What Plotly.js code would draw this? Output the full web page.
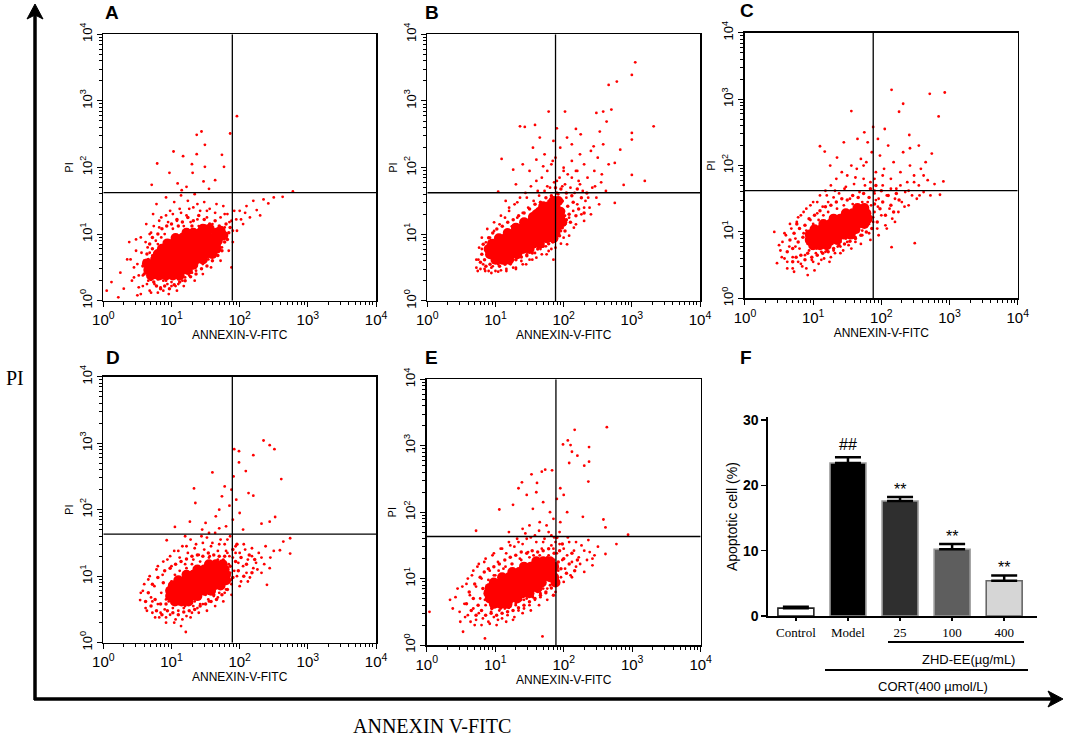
<!DOCTYPE html>
<html><head><meta charset="utf-8">
<script src="https://cdn.plot.ly/plotly-3.0.1.min.js"></script>
<style>html,body{margin:0;padding:0;background:#fff}#chart{width:1065px;height:737px}</style>
</head><body><div id="chart"></div>
<script>
// ---------- DATA (log10 decades: [x, y]) ----------
const coreA = [[0.82,0.38],[0.92,0.38],[1.02,0.38],
[0.74,0.46],[0.84,0.46],[0.94,0.46],[1.04,0.46],[1.14,0.46],
[0.72,0.54],[0.82,0.54],[0.92,0.54],[1.02,0.54],[1.12,0.54],[1.22,0.54],
[0.76,0.62],[0.86,0.62],[0.96,0.62],[1.06,0.62],[1.16,0.62],[1.26,0.62],[1.36,0.62],
[0.80,0.70],[0.90,0.70],[1.00,0.70],[1.10,0.70],[1.20,0.70],[1.30,0.70],[1.40,0.70],[1.50,0.70],
[0.86,0.78],[0.96,0.78],[1.06,0.78],[1.16,0.78],[1.26,0.78],[1.36,0.78],[1.46,0.78],[1.56,0.78],
[0.94,0.86],[1.04,0.86],[1.14,0.86],[1.24,0.86],[1.34,0.86],[1.44,0.86],[1.54,0.86],
[1.06,0.94],[1.16,0.94],[1.26,0.94],[1.36,0.94],[1.46,0.94],[1.56,0.94],
[1.22,1.02],[1.32,1.02],[1.42,1.02],
[1.62,0.94],[1.66,1.02],[1.52,1.02],[1.72,1.05],[1.60,0.86],[1.68,0.90],
[0.66,0.46],[0.64,0.56],[1.24,0.46],[1.32,0.54],[1.46,0.62],[1.60,0.70],[1.66,0.78],[1.76,0.98],[1.46,1.08],[1.56,1.08],[0.70,0.38],[1.12,0.38]];
const ringA = [[0.60,0.40],[0.62,0.58],[0.64,0.70],[0.66,0.48],[0.68,0.85],[0.70,0.32],[0.72,0.95],[0.74,0.28],[0.78,0.22],[0.80,1.00],[0.84,0.18],[0.86,1.08],[0.90,0.22],[0.93,1.12],[0.97,0.18],[1.00,1.15],[1.04,0.24],[1.08,1.22],[1.12,0.28],[1.16,1.18],[1.20,0.30],[1.24,1.25],[1.28,0.36],[1.32,1.20],[1.36,0.40],[1.40,1.28],[1.44,0.48],[1.48,1.22],[1.52,0.52],[1.56,1.15],[1.60,0.60],[1.64,1.20],[1.68,0.68],[1.70,1.12],[1.74,0.75],[1.76,1.05],[1.78,0.88],[1.80,1.15],[1.82,0.92],[1.84,1.02],[1.70,0.82],[1.58,0.66],[0.66,0.62],[0.76,0.35],[1.10,1.12],[1.30,1.12],[1.50,1.12],[1.86,1.10],[0.58,0.52],[0.72,0.78]];
const ring2A = [[0.45,0.35],[0.50,0.55],[0.52,0.20],[0.56,0.72],[0.58,0.38],[0.62,0.88],[0.64,0.25],[0.68,1.00],[0.70,0.12],[0.74,1.12],[0.80,0.12],[0.82,1.20],[0.88,0.15],[0.92,1.28],[0.96,0.10],[1.02,1.30],[1.08,0.15],[1.14,1.32],[1.18,0.22],[1.26,1.38],[1.34,0.30],[1.38,1.45],[1.46,0.40],[1.52,1.35],[1.58,0.50],[1.66,1.45],[1.72,0.60],[1.78,1.30],[1.84,0.75],[1.88,1.20],[1.90,0.88],[1.92,1.35],[1.96,1.05],[2.02,1.22],[2.08,1.32],[0.55,0.10],[0.40,0.62],[0.48,0.92]];
const haloA = [[0.05,0.15],[0.12,0.28],[0.22,0.05],[0.25,0.42],[0.30,0.18],[0.35,0.62],[0.38,0.88],[0.42,0.30],[0.45,0.50],[0.48,0.75],[0.50,0.08],[0.52,0.38],[0.55,0.95],[0.58,0.22],[0.60,0.60],[0.62,0.45],[0.63,1.15],[0.65,0.80],[0.66,0.30],[0.68,0.15],[0.70,1.02],[0.72,0.68],[0.73,1.30],[0.75,0.25],[0.77,0.90],[0.78,1.45],[0.80,0.32],[0.82,1.10],[0.84,0.20],[0.85,1.25],[0.88,0.30],[0.90,1.00],[0.92,1.55],[0.94,0.25],[0.95,1.18],[0.98,1.35],[1.00,0.28],[1.02,1.08],[1.04,1.48],[1.06,0.22],[1.08,1.20],[1.10,0.32],[1.12,1.38],[1.14,1.58],[1.16,0.30],[1.18,1.12],[1.20,0.42],[1.22,1.28],[1.24,1.50],[1.26,0.38],[1.28,1.18],[1.30,0.50],[1.32,1.40],[1.34,1.60],[1.36,0.45],[1.38,1.22],[1.40,0.58],[1.42,1.35],[1.44,1.10],[1.46,0.55],[1.48,1.48],[1.50,0.70],[1.52,1.25],[1.54,0.62],[1.56,1.38],[1.58,0.78],[1.60,1.15],[1.62,0.72],[1.64,1.32],[1.66,0.85],[1.68,1.05],[1.70,0.95],[1.72,1.25],[1.74,0.80],[1.76,1.42],[1.78,1.10],[1.80,0.98],[1.82,1.30],[1.85,1.18],[1.88,0.50],[1.90,1.05],
[1.95,1.22],[2.00,1.35],[2.05,1.15],[2.10,1.42],[2.15,1.25],[2.20,1.50],[2.25,1.36],[2.30,1.28],[2.35,1.52],[2.42,1.46],[2.50,1.55],[2.63,1.56],[2.78,1.64],
[0.71,1.74],[0.79,2.06],[0.97,1.92],[1.03,2.24],[1.09,1.76],[1.17,2.17],[1.22,1.71],[1.30,2.05],[1.31,1.92],[1.37,2.20],[1.37,2.49],[1.44,2.54],[1.47,1.79],[1.49,2.34],[1.49,2.01],[1.64,1.81],[1.74,2.19],[1.77,2.01],[1.86,2.51],[1.96,2.77],[1.15,1.66],[1.55,1.68],
[0.70,0.55],[0.68,0.72],[0.74,0.40],[0.80,0.85],[0.85,0.95],[0.92,0.30],[1.00,0.22],[1.10,0.25],[1.20,0.35],[1.30,0.42],[1.45,0.62],[1.55,0.72],[1.62,0.88],[1.68,0.98],[1.50,1.05],[1.40,1.12],[1.25,1.05],[1.15,1.00],[1.05,0.95],[0.98,0.90]];

const coreB = [[1.00,0.62],[1.10,0.62],[1.20,0.62],
[0.92,0.70],[1.02,0.70],[1.12,0.70],[1.22,0.70],[1.32,0.70],
[0.90,0.78],[1.00,0.78],[1.10,0.78],[1.20,0.78],[1.30,0.78],[1.40,0.78],[1.50,0.78],
[0.95,0.86],[1.05,0.86],[1.15,0.86],[1.25,0.86],[1.35,0.86],[1.45,0.86],[1.55,0.86],[1.65,0.86],
[1.05,0.94],[1.15,0.94],[1.25,0.94],[1.35,0.94],[1.45,0.94],[1.55,0.94],[1.65,0.94],[1.75,0.94],[1.85,0.94],
[1.18,1.02],[1.28,1.02],[1.38,1.02],[1.48,1.02],[1.58,1.02],[1.68,1.02],[1.78,1.02],[1.88,1.02],
[1.30,1.10],[1.40,1.10],[1.50,1.10],[1.60,1.10],[1.70,1.10],[1.80,1.10],[1.90,1.10],
[1.42,1.18],[1.52,1.18],[1.62,1.18],[1.72,1.18],[1.82,1.18],[1.92,1.18],
[1.55,1.26],[1.65,1.26],[1.75,1.26],[1.85,1.26],
[1.65,1.34],[1.75,1.34],[1.85,1.34],
[1.78,1.42],[1.88,1.42],
[1.95,1.26],[1.95,1.34],[1.92,1.50],[1.85,1.50],[1.98,1.18],[1.60,1.30],[1.70,1.42]];
const ringB = [[0.78,0.58],[0.80,0.70],[0.82,0.85],[0.84,0.62],[0.86,0.52],[0.88,0.80],[0.90,0.95],[0.92,0.55],[0.96,1.02],[0.98,0.58],[1.02,1.08],[1.06,0.52],[1.10,1.12],[1.14,0.55],[1.18,1.18],[1.22,0.60],[1.26,1.22],[1.30,0.62],[1.34,1.28],[1.38,0.66],[1.42,1.32],[1.46,0.68],[1.50,1.38],[1.54,0.72],[1.58,1.45],[1.62,0.78],[1.66,1.48],[1.70,0.82],[1.74,1.55],[1.78,0.86],[1.82,1.58],[1.86,0.90],[1.90,1.62],[1.94,0.98],[1.98,1.50],[2.02,1.05],[2.06,1.42],[2.10,1.18],[2.14,1.48],[2.18,1.28],[2.22,1.38],[2.26,1.55],[2.30,1.32],[2.34,1.62],[2.04,1.62],[1.96,1.68],[1.88,1.70],[2.12,1.58],[2.20,1.68],[1.92,1.52],[2.00,1.35],[2.08,1.30],[1.98,1.10],[2.04,1.22]];
const ring2B = [[0.72,0.62],[0.74,0.45],[0.76,0.80],[0.80,0.95],[0.84,0.48],[0.88,1.08],[0.94,0.42],[0.98,1.18],[1.04,0.44],[1.08,1.28],[1.16,0.45],[1.20,1.40],[1.26,0.50],[1.32,1.48],[1.40,0.55],[1.46,1.55],[1.54,0.62],[1.62,1.65],[1.68,0.70],[1.76,1.72],[1.82,0.78],[1.90,1.80],[1.96,0.86],[2.02,1.75],[2.08,0.98],[2.12,1.85],[2.18,1.15],[2.24,1.75],[2.30,1.40],[2.36,1.55],[2.40,1.30],[2.46,1.72],[2.52,1.45],[2.56,1.90],[1.84,2.10],[1.70,2.02],[2.00,1.95],[2.20,1.95]];
const haloB = [[0.72,0.50],[0.75,0.62],[0.78,0.48],[0.80,0.78],[0.82,0.55],[0.85,0.45],[0.86,0.88],[0.88,0.68],[0.90,0.45],[0.92,0.95],[0.94,0.50],[0.96,0.52],[0.98,1.05],[1.00,0.45],[1.02,0.92],[1.04,0.55],[1.06,1.15],[1.08,0.46],[1.10,0.98],[1.12,0.58],[1.14,1.25],[1.16,0.48],[1.18,0.70],[1.20,1.35],[1.22,0.55],[1.24,1.12],[1.26,0.62],[1.28,1.45],[1.30,0.48],[1.32,1.25],[1.34,0.68],[1.36,1.55],[1.38,0.60],[1.40,1.32],[1.42,0.75],[1.44,1.62],[1.46,0.70],[1.48,1.40],[1.50,0.62],[1.52,1.72],[1.54,0.80],[1.56,1.50],[1.58,0.72],[1.60,1.80],[1.62,0.85],[1.64,1.58],[1.66,0.78],[1.68,1.85],[1.70,0.90],[1.72,1.65],[1.74,0.82],[1.76,1.95],[1.78,0.75],[1.80,1.70],[1.82,2.05],[1.84,0.88],[1.86,1.78],[1.88,2.15],[1.90,0.95],[1.92,1.60],[1.94,1.85],[1.96,1.05],[1.98,1.72],[2.00,2.00],[2.02,1.15],[2.04,1.55],[2.06,1.90],[2.08,1.25],[2.10,1.70],[2.12,2.10],[2.14,1.35],[2.16,1.62],[2.18,1.95],[2.20,1.45],[2.22,1.80],[2.24,2.20],[2.26,1.30],[2.28,1.65],[2.30,2.05],[2.32,1.50],[2.35,1.85],[2.38,1.40],[2.40,2.25],[2.42,1.70],[2.45,1.95],[2.48,1.55],[2.50,2.15],[2.55,1.78],[2.58,2.35],[2.62,1.65],[2.66,2.05],
[3.05,3.58],[3.00,3.39],[2.78,3.29],[2.66,3.24],[2.70,2.87],[2.58,2.84],[2.48,2.82],[2.63,2.69],[2.53,2.54],[3.32,2.62],[3.00,2.52],[3.00,2.42],[2.83,2.27],[2.75,2.07],[3.00,1.89],[3.19,1.80],[2.88,1.74],[2.75,1.47],[2.02,2.84],[1.78,2.84],[1.90,2.59],[2.18,2.58],[1.58,2.64],[1.36,2.62],[1.43,2.61],[1.09,2.13],[1.26,1.97],[1.04,1.64],[2.44,2.32],[1.55,2.30],[1.65,2.45],[1.72,2.20],[1.85,2.40],[1.95,2.30],[2.05,2.45],[1.40,2.05],[1.50,1.95],[1.60,2.12],[1.30,1.75],[1.15,1.50],[2.12,2.35],[2.25,2.50],
[1.02,0.68],[1.10,0.85],[1.18,0.92],[1.25,0.80],[1.32,0.95],[1.40,1.00],[1.48,1.15],[1.55,1.22],[1.62,1.30],[1.70,1.38],[1.78,1.50],[1.85,1.55],[1.92,1.45],[1.95,1.30],[1.98,1.20],[1.96,1.38],[2.02,1.28],[1.70,1.05],[1.60,0.95],[1.50,0.88],
[1.30,0.50],[1.45,0.55],[1.60,0.65],[1.75,0.70],[1.88,0.80],[2.00,0.95],[2.15,1.10],[2.30,1.20],[1.85,0.62],[2.05,0.85]];

const coreC = [[1.00,0.80],[1.10,0.80],[1.20,0.80],
[0.95,0.88],[1.05,0.88],[1.15,0.88],[1.25,0.88],[1.35,0.88],
[0.95,0.96],[1.05,0.96],[1.15,0.96],[1.25,0.96],[1.35,0.96],[1.45,0.96],[1.55,0.96],
[1.02,1.04],[1.12,1.04],[1.22,1.04],[1.32,1.04],[1.42,1.04],[1.52,1.04],[1.62,1.04],
[1.15,1.12],[1.25,1.12],[1.35,1.12],[1.45,1.12],[1.55,1.12],[1.65,1.12],[1.75,1.12],
[1.30,1.20],[1.40,1.20],[1.50,1.20],[1.60,1.20],[1.70,1.20],[1.80,1.20],
[1.48,1.28],[1.58,1.28],[1.68,1.28],[1.78,1.28],
[1.65,1.36],[1.75,1.36]];
const ringC = [[0.62,0.70],[0.66,0.88],[0.70,0.75],[0.72,0.98],[0.75,0.62],[0.78,0.85],[0.80,1.05],[0.82,0.65],[0.85,0.92],[0.88,0.58],[0.88,1.10],[0.92,0.68],[0.94,1.20],[0.98,0.62],[1.02,1.25],[1.06,0.65],[1.10,1.32],[1.14,0.68],[1.18,1.38],[1.22,0.70],[1.26,1.40],[1.30,0.75],[1.34,1.45],[1.38,0.80],[1.42,1.50],[1.46,0.82],[1.50,1.48],[1.54,0.86],[1.58,1.55],[1.62,0.90],[1.66,1.52],[1.70,0.95],[1.74,1.58],[1.78,1.00],[1.82,1.52],[1.86,1.05],[1.90,1.42],[1.94,1.15],[1.98,1.35],[2.02,1.45],[2.06,1.25],[2.10,1.55],[2.14,1.40],[2.18,1.30],[2.22,1.58],[2.26,1.48],[2.00,1.62],[1.92,1.70],[1.84,1.65],[0.76,1.12],[0.70,0.55]];
const ring2C = [[0.50,0.80],[0.54,0.62],[0.58,0.98],[0.62,0.55],[0.66,1.12],[0.70,0.45],[0.74,0.78],[0.78,1.22],[0.82,0.52],[0.86,1.30],[0.90,0.45],[0.96,1.40],[1.00,0.55],[1.06,1.45],[1.12,0.58],[1.20,1.55],[1.26,0.62],[1.32,1.62],[1.40,0.68],[1.48,1.68],[1.56,0.75],[1.62,1.82],[1.70,0.82],[1.76,1.70],[1.84,0.88],[1.90,1.80],[1.96,0.95],[2.02,1.85],[2.08,1.05],[2.14,1.65],[2.20,1.15],[2.28,1.70],[2.34,1.38],[2.40,1.62],[2.48,1.75],[2.56,1.55],[2.62,1.85],[1.74,2.00]];
const haloC = [[0.43,1.00],[0.47,0.53],[0.52,0.72],[0.55,0.85],[0.58,0.60],[0.60,0.95],[0.62,0.45],[0.65,0.78],[0.68,1.05],[0.70,0.62],[0.72,0.40],[0.74,0.90],[0.76,1.15],[0.78,0.55],[0.80,0.75],[0.82,1.25],[0.84,0.48],[0.86,0.98],[0.88,0.65],[0.90,1.35],[0.92,0.35],[0.94,0.72],[0.96,1.18],[0.98,0.58],[1.00,1.45],[1.02,0.42],[1.04,0.68],[1.06,1.28],[1.08,0.52],[1.10,1.55],[1.12,0.70],[1.14,1.38],[1.16,0.60],[1.18,1.62],[1.20,0.72],[1.22,1.45],[1.24,0.55],[1.26,1.70],[1.28,0.82],[1.30,1.52],[1.32,0.68],[1.34,1.80],[1.36,0.78],[1.38,1.58],[1.40,0.85],[1.42,1.90],[1.44,0.72],[1.46,1.65],[1.48,0.90],[1.50,1.85],[1.52,0.80],[1.54,1.50],[1.56,2.00],[1.58,0.92],[1.60,1.72],[1.62,0.85],[1.64,1.95],[1.66,1.00],[1.68,1.60],[1.70,2.10],[1.72,0.95],[1.74,1.80],[1.76,1.10],[1.78,2.05],[1.80,1.45],[1.82,0.98],[1.84,1.75],[1.86,2.20],[1.88,1.15],[1.90,1.62],[1.92,1.90],[1.94,1.05],[1.96,1.50],[1.98,2.15],[2.00,1.25],[2.02,1.70],[2.04,1.95],[2.06,1.10],[2.08,1.55],[2.10,2.30],[2.12,1.35],[2.14,1.80],[2.16,1.20],[2.18,2.05],[2.20,1.50],[2.22,1.65],[2.25,1.30],[2.28,1.90],[2.30,1.45],[2.32,2.20],[2.35,1.60],[2.38,1.75],[2.40,1.40],[2.42,2.00],[2.45,1.55],[2.48,1.85],[2.52,1.50],[2.55,1.70],[2.58,1.95],[2.62,1.60],[2.68,1.78],[2.72,1.55],[2.78,1.72],
[2.15,3.14],[2.71,3.08],[2.93,3.10],[2.84,2.74],[2.32,2.93],[2.26,2.81],[1.56,2.82],[1.88,2.58],[2.41,2.46],[1.10,2.29],[1.17,2.21],[2.74,2.18],[2.42,2.26],[2.91,1.76],[2.86,1.56],[2.49,0.83],[2.15,0.77],[1.45,2.35],[1.65,2.40],[1.75,2.50],[1.95,2.40],[2.05,2.55],[1.80,2.35],[1.35,2.12],[1.25,2.00],[2.55,2.30],[2.65,2.05],
[0.92,0.82],[0.90,1.02],[1.00,1.12],[1.08,1.18],[1.15,1.25],[1.22,1.30],[1.35,1.35],[1.45,1.40],[1.58,1.42],[1.72,1.45],[1.85,1.40],[1.90,1.30],[1.88,1.22],[1.82,1.12],[1.72,1.02],[1.62,0.92],[1.50,0.85],[1.40,0.78],[1.30,0.72],[1.18,0.70],[1.05,0.75],[0.98,0.75],[1.92,1.48],[1.95,1.38],[1.90,1.58]];

const coreD = [[1.05,0.62],[1.15,0.62],[1.25,0.62],
[0.98,0.70],[1.08,0.70],[1.18,0.70],[1.28,0.70],[1.38,0.70],
[0.98,0.78],[1.08,0.78],[1.18,0.78],[1.28,0.78],[1.38,0.78],[1.48,0.78],[1.58,0.78],
[1.02,0.86],[1.12,0.86],[1.22,0.86],[1.32,0.86],[1.42,0.86],[1.52,0.86],[1.62,0.86],[1.72,0.86],
[1.10,0.94],[1.20,0.94],[1.30,0.94],[1.40,0.94],[1.50,0.94],[1.60,0.94],[1.70,0.94],[1.80,0.94],
[1.22,1.02],[1.32,1.02],[1.42,1.02],[1.52,1.02],[1.62,1.02],[1.72,1.02],[1.80,1.02],
[1.38,1.10],[1.48,1.10],[1.58,1.10],[1.68,1.10],[1.78,1.10],
[1.55,1.18],[1.65,1.18],[1.75,1.18]];
const ringD = [[0.62,0.62],[0.66,0.75],[0.70,0.55],[0.72,0.88],[0.76,0.65],[0.78,0.48],[0.80,0.98],[0.84,0.58],[0.86,0.42],[0.88,0.90],[0.90,1.08],[0.94,0.48],[0.96,0.72],[0.98,1.12],[1.02,0.45],[1.06,1.18],[1.10,0.42],[1.14,1.22],[1.18,0.46],[1.22,1.26],[1.26,0.48],[1.30,1.30],[1.34,0.50],[1.38,1.32],[1.42,0.55],[1.46,1.30],[1.50,0.58],[1.54,1.35],[1.58,0.62],[1.62,1.32],[1.66,0.65],[1.70,1.30],[1.74,0.72],[1.78,1.30],[1.82,0.80],[1.86,1.15],[1.90,0.98],[1.94,1.22],[1.98,1.08],[2.02,1.28],[2.06,1.00],[2.10,1.18],[2.14,1.32],[2.18,1.05],[2.22,1.25],[1.90,1.40],[1.96,1.48],[0.92,0.58],[1.62,0.72],[1.84,0.92]];
const ring2D = [[0.55,0.75],[0.60,0.88],[0.64,0.48],[0.68,1.00],[0.72,0.62],[0.76,0.38],[0.80,1.15],[0.84,0.45],[0.88,1.22],[0.92,0.38],[0.98,1.30],[1.04,0.30],[1.10,1.38],[1.16,0.35],[1.22,1.45],[1.28,0.38],[1.34,1.42],[1.40,0.45],[1.46,1.50],[1.52,0.48],[1.58,1.45],[1.64,0.55],[1.70,1.48],[1.76,0.62],[1.82,1.55],[1.88,0.72],[1.94,1.35],[2.00,0.85],[2.06,1.48],[2.12,0.92],[2.18,1.42],[2.26,1.10],[2.32,1.28],[2.38,1.45],[2.44,1.12],[2.50,1.38],[1.70,1.72],[1.55,1.65]];
const haloD = [[0.54,0.64],[0.58,0.78],[0.62,0.52],[0.66,0.95],[0.70,0.68],[0.72,0.45],[0.75,0.85],[0.78,1.10],[0.80,0.58],[0.82,0.38],[0.85,0.75],[0.87,1.02],[0.90,0.50],[0.92,0.30],[0.94,1.25],[0.96,0.62],[0.98,0.42],[1.00,1.15],[1.02,0.52],[1.04,1.38],[1.06,0.35],[1.08,0.95],[1.10,0.48],[1.12,1.28],[1.14,0.25],[1.16,1.45],[1.18,0.52],[1.20,1.18],[1.21,0.16],[1.22,0.40],[1.24,1.35],[1.26,0.58],[1.28,1.55],[1.30,0.45],[1.32,1.25],[1.34,0.62],[1.36,1.48],[1.38,0.52],[1.40,1.32],[1.42,0.70],[1.44,1.60],[1.46,0.58],[1.48,1.40],[1.50,0.72],[1.52,1.58],[1.54,0.65],[1.56,1.30],[1.58,0.78],[1.60,1.50],[1.62,0.70],[1.64,1.65],[1.66,0.82],[1.68,1.38],[1.70,0.75],[1.72,1.55],[1.74,0.88],[1.76,1.25],[1.78,1.48],[1.80,0.80],[1.82,1.35],[1.84,1.18],[1.86,1.60],[1.88,0.95],[1.90,1.28],[1.92,1.08],[1.94,1.45],[1.96,1.00],[1.98,1.20],[2.00,1.35],[2.02,0.92],[2.05,1.15],[2.08,1.40],[2.10,1.05],[2.12,1.25],[2.15,0.98],[2.18,1.30],[2.20,1.12],[2.24,1.20],[2.28,1.35],[2.32,1.05],[2.36,1.18],[2.40,0.87],[2.45,1.28],
[2.35,3.04],[2.44,2.97],[2.51,2.91],[1.92,2.91],[1.99,2.88],[2.20,2.82],[1.99,2.71],[2.09,2.58],[1.60,2.56],[1.91,2.50],[2.61,2.46],[1.33,2.32],[1.78,2.35],[2.13,2.25],[2.20,2.21],[1.74,2.20],[1.35,2.10],[1.85,2.06],[2.52,1.89],[2.32,1.79],[2.44,1.82],[1.05,1.74],[1.27,1.82],[2.74,1.57],[2.64,1.52],[2.59,1.39],[2.74,1.34],[0.93,1.54],[1.50,1.80],[1.65,1.90],[1.80,1.75],[1.90,1.85],[2.00,1.95],[2.05,1.70],[1.70,2.00],[1.45,1.70],[1.95,2.15],[1.88,2.30],[1.20,1.60],
[0.92,0.65],[0.95,0.82],[1.00,0.92],[1.05,1.02],[1.12,1.08],[1.22,1.12],[1.30,1.18],[1.42,1.22],[1.55,1.28],[1.68,1.25],[1.78,1.20],[1.86,1.05],[1.88,0.88],[1.78,0.75],[1.68,0.68],[1.55,0.62],[1.42,0.58],[1.32,0.55],[1.20,0.55],[1.10,0.58],[1.85,1.30],[1.80,1.38]];

const coreE = [[0.98,0.62],[1.08,0.62],[1.18,0.62],
[0.92,0.70],[1.02,0.70],[1.12,0.70],[1.22,0.70],[1.32,0.70],
[0.90,0.78],[1.00,0.78],[1.10,0.78],[1.20,0.78],[1.30,0.78],[1.40,0.78],[1.50,0.78],
[0.92,0.86],[1.02,0.86],[1.12,0.86],[1.22,0.86],[1.32,0.86],[1.42,0.86],[1.52,0.86],[1.62,0.86],
[0.98,0.94],[1.08,0.94],[1.18,0.94],[1.28,0.94],[1.38,0.94],[1.48,0.94],[1.58,0.94],[1.68,0.94],
[1.10,1.02],[1.20,1.02],[1.30,1.02],[1.40,1.02],[1.50,1.02],[1.60,1.02],[1.70,1.02],[1.80,1.02],
[1.25,1.10],[1.35,1.10],[1.45,1.10],[1.55,1.10],[1.65,1.10],[1.75,1.10],[1.82,1.10],
[1.42,1.18],[1.52,1.18],[1.62,1.18],[1.72,1.18],[1.80,1.18],
[1.60,1.26],[1.70,1.26],[1.80,1.26],
[1.86,1.02],[1.86,1.18],[1.88,0.94]];
const ringE = [[0.58,0.62],[0.62,0.80],[0.65,0.52],[0.68,0.70],[0.70,0.92],[0.72,0.45],[0.75,0.60],[0.78,1.02],[0.80,0.52],[0.82,0.85],[0.84,1.10],[0.86,0.45],[0.88,0.70],[0.90,1.15],[0.94,0.48],[0.98,1.18],[1.02,0.45],[1.06,1.22],[1.10,0.48],[1.14,1.28],[1.18,0.50],[1.22,1.32],[1.26,0.52],[1.30,1.35],[1.34,0.56],[1.38,1.40],[1.42,0.60],[1.46,1.38],[1.50,0.65],[1.54,1.42],[1.58,0.70],[1.62,1.40],[1.66,0.75],[1.70,1.42],[1.74,0.80],[1.78,1.45],[1.82,0.86],[1.86,1.38],[1.90,1.00],[1.92,1.25],[1.96,1.15],[2.00,1.30],[2.04,1.08],[2.08,1.22],[2.12,1.38],[2.16,1.12],[2.20,1.28],[1.94,1.42],[1.98,1.52],[1.90,1.62],[0.95,0.55],[1.85,0.75]];
const ring2E = [[0.42,0.72],[0.48,0.50],[0.52,0.88],[0.56,0.42],[0.60,1.00],[0.64,0.35],[0.68,1.12],[0.72,0.38],[0.76,1.22],[0.80,0.30],[0.86,1.30],[0.92,0.32],[0.98,1.38],[1.04,0.38],[1.10,1.45],[1.16,0.35],[1.22,1.50],[1.28,0.42],[1.34,1.55],[1.40,0.48],[1.46,1.60],[1.52,0.52],[1.58,1.65],[1.64,0.60],[1.70,1.55],[1.76,0.68],[1.82,1.65],[1.88,0.80],[1.94,1.70],[2.00,0.95],[2.06,1.62],[2.12,1.02],[2.18,1.55],[2.24,1.22],[2.30,1.42],[2.36,1.58],[2.42,1.30],[2.50,1.48]];
const haloE = [[0.04,0.50],[0.34,0.68],[0.38,0.55],[0.45,0.85],[0.49,0.35],[0.53,0.20],[0.55,0.62],[0.58,0.92],[0.60,0.45],[0.63,0.75],[0.66,1.05],[0.68,0.55],[0.70,0.30],[0.72,0.88],[0.74,1.18],[0.76,0.48],[0.78,0.70],[0.80,1.00],[0.82,0.40],[0.84,1.25],[0.85,0.10],[0.86,0.60],[0.88,0.88],[0.90,0.35],[0.92,1.12],[0.94,0.50],[0.96,1.35],[0.98,0.42],[1.00,1.05],[1.02,0.30],[1.04,1.25],[1.06,0.52],[1.08,1.45],[1.10,0.40],[1.12,1.15],[1.14,0.55],[1.16,1.38],[1.18,0.45],[1.20,1.55],[1.22,0.58],[1.24,1.22],[1.26,0.38],[1.28,1.48],[1.30,0.62],[1.32,1.60],[1.34,0.52],[1.36,1.30],[1.38,0.68],[1.40,1.52],[1.42,0.55],[1.44,1.68],[1.46,0.70],[1.48,1.40],[1.50,0.60],[1.52,1.62],[1.54,0.75],[1.56,1.35],[1.58,0.68],[1.60,1.55],[1.62,0.80],[1.64,1.72],[1.66,0.72],[1.68,1.45],[1.69,0.13],[1.70,0.85],[1.72,1.60],[1.74,0.78],[1.76,1.32],[1.78,1.70],[1.80,0.90],[1.82,1.50],[1.84,1.20],[1.86,1.62],[1.88,0.98],[1.90,1.38],[1.92,1.12],[1.94,1.52],[1.96,1.02],[1.98,1.28],[2.00,1.45],[2.02,1.15],[2.05,1.35],[2.08,1.55],[2.10,1.05],[2.12,1.25],[2.15,1.42],[2.18,1.18],[2.22,1.32],[2.26,1.50],[2.30,1.10],[2.34,1.28],[2.38,1.40],[2.42,1.20],[2.45,1.35],
[2.63,3.28],[2.16,3.24],[2.06,3.08],[2.10,3.01],[1.99,3.02],[2.37,2.98],[2.12,2.91],[2.20,2.85],[2.08,2.74],[2.30,2.70],[2.37,2.76],[1.73,2.64],[1.68,2.61],[1.83,2.63],[1.53,2.57],[1.39,2.45],[1.61,2.44],[2.36,2.46],[1.34,2.36],[1.95,2.36],[2.00,2.26],[1.46,2.26],[1.26,2.11],[1.06,2.04],[2.28,1.93],[2.58,1.89],[2.61,1.77],[0.72,1.72],[2.94,1.66],[2.77,1.52],[2.61,1.37],[1.55,2.05],[1.70,2.15],[1.80,2.00],[1.90,2.20],[1.65,1.85],[1.75,1.80],[1.85,1.90],[1.50,1.80],[1.40,1.75],[1.95,1.85],[1.20,1.70],[2.05,2.00],[1.60,2.30],
[0.85,0.68],[0.86,0.82],[0.90,0.98],[0.98,1.05],[1.05,1.12],[1.15,1.18],[1.25,1.22],[1.38,1.28],[1.50,1.32],[1.65,1.35],[1.78,1.35],[1.86,1.28],[1.88,1.10],[1.86,0.92],[1.76,0.85],[1.66,0.78],[1.55,0.72],[1.42,0.68],[1.30,0.60],[1.20,0.56],[1.08,0.55],[0.95,0.58],[1.85,1.45],[1.88,1.55]];

// quadrant gates (linear units) per panel A..E
const gateX = [78, 76, 76, 78, 77];
const gateY = [42, 42, 42, 43, 43];

// tick labels
const decadeVals = [1, 10, 100, 1000, 10000];
const decadeText = ['10<sup>0</sup>','10<sup>1</sup>','10<sup>2</sup>','10<sup>3</sup>','10<sup>4</sup>'];

// panel F bar data
const fCats = ['Control','Model','25','100','400'];
const fVals = [1.2, 23.4, 17.6, 10.2, 5.4];
const fErr  = [0.2, 0.9, 0.6, 0.8, 0.8];
const fSig  = ['', '##', '**', '**', '**'];
const fTicks = [0, 10, 20, 30];

// ---------- BUILD ----------
const panels = [
  {core: coreA, ring: ringA, ring2: ring2A, halo: haloA, dx:[0.0970,0.3531], dy:[0.5920,0.9535]},
  {core: coreB, ring: ringB, ring2: ring2B, halo: haloB, dx:[0.4012,0.6573], dy:[0.5916,0.9535]},
  {core: coreC, ring: ringC, ring2: ring2C, halo: haloC, dx:[0.6995,0.9556], dy:[0.5952,0.9556]},
  {core: coreD, ring: ringD, ring2: ring2D, halo: haloD, dx:[0.0970,0.3531], dy:[0.1280,0.4889]},
  {core: coreE, ring: ringE, ring2: ring2E, halo: haloE, dx:[0.4007,0.6579], dy:[0.1248,0.4853]}
];
const minorVals = [];
[1,10,100,1000].forEach(d => { for (let k=2;k<=9;k++) minorVals.push(k*d); });

const traces = [];
const layout = {
  width:1065, height:737, margin:{l:0,r:0,t:0,b:0},
  paper_bgcolor:'#fff', plot_bgcolor:'rgba(0,0,0,0)', showlegend:false,
  annotations:[], shapes:[]
};
const toLin = v => Math.pow(10, v);
const sansFont = 'Arial, Liberation Sans, sans-serif';
const serifFont = 'Liberation Serif, Times New Roman, serif';

panels.forEach((p, i) => {
  const n = i + 1, s = n === 1 ? '' : String(n);
  const xa = 'x' + s, ya = 'y' + s;
  [[p.halo, 2.8], [p.ring2, 2.8], [p.ring, 3.5], [p.core, 10]].forEach(set => {
    traces.push({type:'scatter', mode:'markers', x:set[0].map(q=>toLin(q[0])), y:set[0].map(q=>toLin(q[1])),
      xaxis:xa, yaxis:ya, marker:{color:'#ff0000', size:set[1]}, hoverinfo:'skip'});
  });
  traces.push({type:'scatter', mode:'lines', x:[gateX[i], gateX[i]], y:[1, 10000], xaxis:xa, yaxis:ya,
    line:{color:'#000', width:1.3}, hoverinfo:'skip'});
  traces.push({type:'scatter', mode:'lines', x:[1, 10000], y:[gateY[i], gateY[i]], xaxis:xa, yaxis:ya,
    line:{color:'#000', width:1.3}, hoverinfo:'skip'});
  const common = {type:'log', range:[0,4], tickmode:'array', tickvals:decadeVals, ticktext:decadeText,
    ticks:'outside', ticklen:5, tickwidth:1, tickcolor:'#000',
    minor:{tickmode:'array', tickvals:minorVals, ticks:'outside', ticklen:3, tickwidth:1, tickcolor:'#000', showgrid:false},
    showline:true, mirror:true, linecolor:'#000', linewidth:1.5, showgrid:false, zeroline:false, fixedrange:true};
  layout['xaxis' + s] = Object.assign({}, common, {domain:p.dx, anchor:ya,
    tickfont:{family:sansFont, size:15, color:'#000'},
    title:{text:'ANNEXIN-V-FITC', font:{family:sansFont, size:12, color:'#000'}, standoff:0}});
  layout['yaxis' + s] = Object.assign({}, common, {domain:p.dy, anchor:xa, tickangle:-90,
    tickfont:{family:sansFont, size:13, color:'#000'},
    title:{text:'PI', font:{family:sansFont, size:11, color:'#000'}, standoff:2}});
});

// Panel F
traces.push({type:'bar', x:[0,1,2,3,4], y:fVals, xaxis:'x6', yaxis:'y6', width:0.69,
  marker:{color:['#ffffff','#000000','#2f2f2f','#5e5e5e','#d6d6d6'],
          line:{color:['#222222','#9a9a9a','#9a9a9a','#9a9a9a','#666666'], width:1.6}},
  error_y:{type:'data', symmetric:false, array:fErr, arrayminus:[0,0,0,0,0], color:'#000', thickness:2.5, width:13},
  hoverinfo:'skip'});
layout.xaxis6 = {domain:[0.7214,0.9737], anchor:'y6', range:[-0.53,4.63], tickmode:'array',
  tickvals:[0,1,2,3,4], ticktext:fCats, ticks:'outside', ticklen:3, tickwidth:1.5, tickcolor:'#000',
  showline:true, linecolor:'#000', linewidth:2, showgrid:false, zeroline:false,
  tickfont:{family:serifFont, size:13, color:'#000'}, fixedrange:true};
layout.yaxis6 = {domain:[0.1642,0.4338], anchor:'x6', range:[0,30.4], tickmode:'array',
  tickvals:fTicks, ticktext:fTicks.map(t=>'<b>'+t+'</b>'), ticks:'outside', ticklen:5, tickwidth:1.5, tickcolor:'#000',
  showline:true, linecolor:'#000', linewidth:2, showgrid:false, zeroline:false,
  tickfont:{family:sansFont, size:14, color:'#000'}, fixedrange:true,
  title:{text:'Apoptotic cell (%)', font:{family:sansFont, size:14, color:'#000'}, standoff:2}};
fSig.forEach((t, i) => {
  if (!t) return;
  layout.annotations.push({xref:'x6', yref:'y6', x:i, y:fVals[i] + fErr[i] + (t === '##' ? 2.0 : 1.2),
    text:t, showarrow:false, xanchor:'center', yanchor:'middle', font:{family:sansFont, size:16, color:'#000'}});
});

// helper px -> paper
const PX = x => x / 1065, PY = y => 1 - y / 737;
const note = (txt, x, y, font) => layout.annotations.push({xref:'paper', yref:'paper', x:PX(x), y:PY(y), text:txt,
  showarrow:false, xanchor:'center', yanchor:'middle', font:font});
// group lines and labels under F
layout.shapes.push({type:'line', xref:'paper', yref:'paper', x0:PX(888), x1:PX(1024), y0:PY(642), y1:PY(642), line:{color:'#000', width:2}});
layout.shapes.push({type:'line', xref:'paper', yref:'paper', x0:PX(825), x1:PX(1028), y0:PY(670), y1:PY(670), line:{color:'#000', width:2}});
note('ZHD-EE(µg/mL)', 968, 659, {family:sansFont, size:13, color:'#000'});
note('CORT(400 µmol/L)', 933, 686, {family:sansFont, size:13, color:'#000'});

// panel letters
[['A',112,12],['B',432,12],['C',747,10],['D',113,357],['E',431,357],['F',746,357]].forEach(l => {
  note('<b>'+l[0]+'</b>', l[1], l[2], {family:sansFont, size:19, color:'#000'});
});

// big outer axes with arrows
layout.shapes.push({type:'line', xref:'paper', yref:'paper', x0:PX(35), x1:PX(35), y0:PY(700), y1:PY(14), line:{color:'#000', width:3.5}});
layout.shapes.push({type:'line', xref:'paper', yref:'paper', x0:PX(34), x1:PX(1052), y0:PY(699), y1:PY(699), line:{color:'#000', width:3.5}});
layout.shapes.push({type:'path', xref:'paper', yref:'paper',
  path:'M '+PX(35)+','+PY(4)+' L '+PX(27)+','+PY(19)+' L '+PX(35)+','+PY(15)+' L '+PX(43)+','+PY(19)+' Z',
  fillcolor:'#000', line:{color:'#000', width:1}});
layout.shapes.push({type:'path', xref:'paper', yref:'paper',
  path:'M '+PX(1063)+','+PY(699)+' L '+PX(1048)+','+PY(691)+' L '+PX(1052)+','+PY(699)+' L '+PX(1048)+','+PY(707)+' Z',
  fillcolor:'#000', line:{color:'#000', width:1}});
note('PI', 15, 378, {family:serifFont, size:20, color:'#000'});
note('ANNEXIN V-FITC', 432, 726, {family:serifFont, size:20, color:'#000'});

Plotly.newPlot('chart', traces, layout, {displayModeBar:false, staticPlot:true});
</script></body></html>
